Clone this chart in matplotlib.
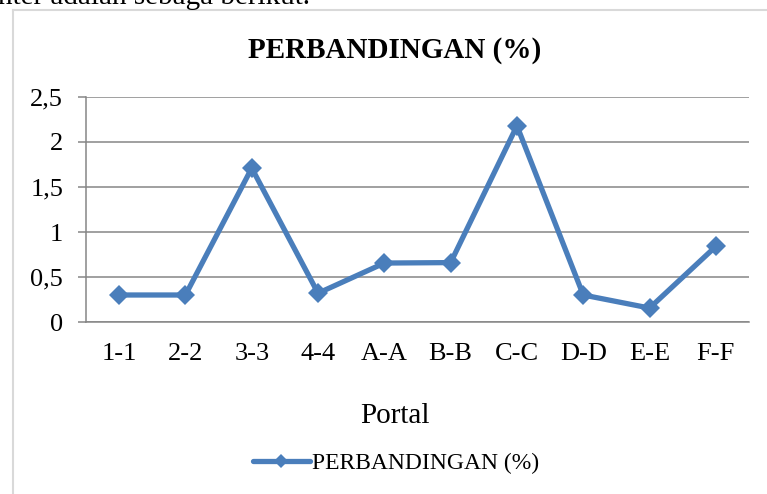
import matplotlib
matplotlib.use('Agg')
import matplotlib.pyplot as plt
from matplotlib.lines import Line2D

plt.rcParams['font.family'] = ['Liberation Serif', 'DejaVu Serif']

# data
portal = ['1-1', '2-2', '3-3', '4-4', 'A-A', 'B-B', 'C-C', 'D-D', 'E-E', 'F-F']
perbandingan = [0.30, 0.30, 1.71, 0.32, 0.655, 0.66, 2.18, 0.30, 0.155, 0.84]
y_ticks = [0, 0.5, 1, 1.5, 2, 2.5]
y_labels = ['0', '0,5', '1', '1,5', '2', '2,5']

W, H = 767, 494
blue = '#4a7ebb'
grey = '#868686'

fig = plt.figure(figsize=(W / 100, H / 100), dpi=100)
ax = fig.add_axes([86 / W, 1 - 322 / H, (749 - 86) / W, (322 - 97) / H])

x = list(range(len(portal)))
ax.plot(x, perbandingan, color=blue, lw=3.8, marker='D', ms=10.5, mew=0,
        solid_capstyle='round', label='PERBANDINGAN (%)', zorder=3)

ax.set_xlim(-0.5, len(portal) - 0.5)
ax.set_ylim(0, 2.5)
ax.set_xticks(x)
ax.set_xticklabels(portal, fontsize=19)
ax.set_yticks(y_ticks)
ax.set_yticklabels(y_labels, fontsize=19)

ax.yaxis.grid(True, color=grey, lw=1.1)
ax.set_axisbelow(True)
for s in ['top', 'right']:
    ax.spines[s].set_visible(False)
for s in ['left', 'bottom']:
    ax.spines[s].set_color(grey)
    ax.spines[s].set_linewidth(1.1)
ax.tick_params(axis='y', length=6, width=1.1, color=grey, pad=10.5)
ax.tick_params(axis='x', length=0, pad=15)

# chart frame (only left and top edges are inside the picture)
fig.add_artist(Line2D([13 / W, 13 / W], [0, 1 - 10 / H], transform=fig.transFigure,
                      color='#d9d9d9', lw=1.5))
fig.add_artist(Line2D([13 / W, 1], [1 - 10 / H, 1 - 10 / H], transform=fig.transFigure,
                      color='#d9d9d9', lw=1.5))

# cut-off sentence above the chart
fig.text(-2 / W, 1 - 4 / H, 'nter adalah sebaga berikut.', fontsize=21, va='baseline')

fig.text(395 / W, 1 - 58 / H, 'PERBANDINGAN (%)', fontsize=21, fontweight='bold',
         ha='center', va='baseline')
fig.text(395 / W, 1 - 423 / H, 'Portal', fontsize=21, ha='center', va='baseline')

fig.legend(loc='center left', bbox_to_anchor=(253 / W, 1 - 463 / H), frameon=False,
           fontsize=17, handlelength=2.4, handletextpad=0.12, borderpad=0,
           borderaxespad=0, markerscale=0.65)

fig.savefig('out.png', dpi=100)
